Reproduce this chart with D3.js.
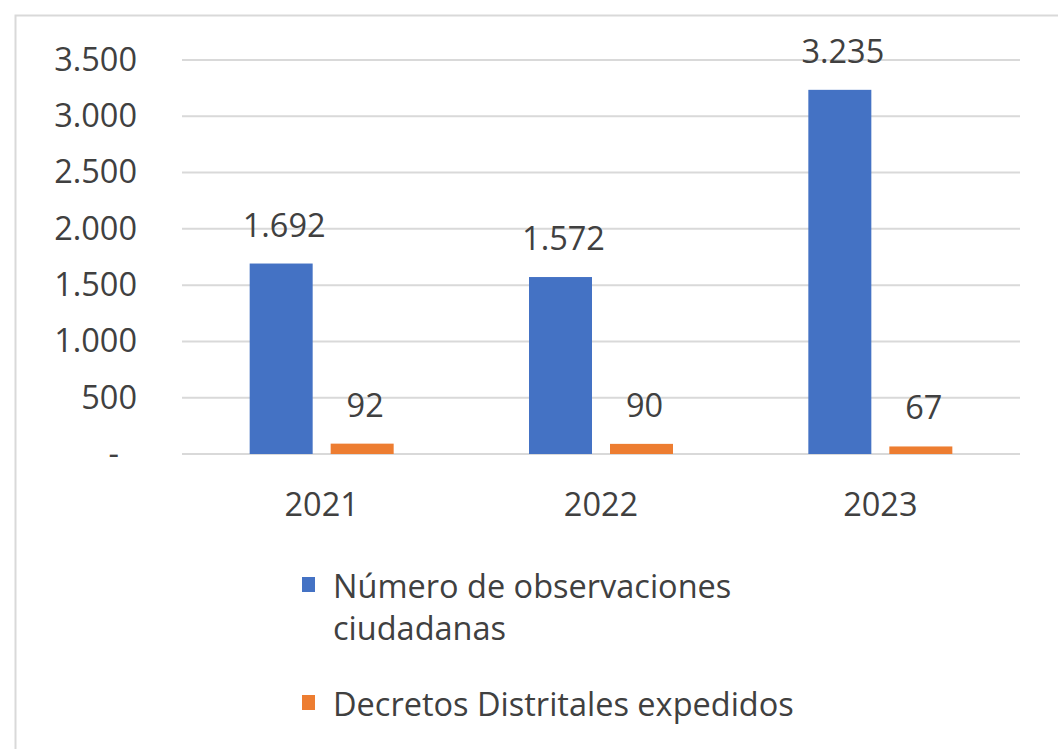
<!DOCTYPE html>
<html>
<head>
<meta charset="utf-8">
<script src="https://cdn.jsdelivr.net/npm/d3@7"></script>
<style>
  body { margin: 0; background: #fff; }
  text { font-family: "Open Sans", sans-serif; fill: #404040; }
</style>
</head>
<body>
<div id="vis"></div>
<script>
// chart data
var years = ['2021', '2022', '2023'];
var observaciones = [1692, 1572, 3235];
var decretos = [92, 90, 67];
var seriesNames = ['Número de observaciones ciudadanas', 'Decretos Distritales expedidos'];
var yTicks = [0, 500, 1000, 1500, 2000, 2500, 3000, 3500];

var width = 1058;
var height = 749;
var colors = ['#4472C4', '#ED7D31'];
var fontSize = 32.5;

var svg = d3.select('#vis')
  .append('svg')
  .attr('width', width)
  .attr('height', height);

// light frame around the chart
svg.append('rect')
  .attr('x', 15.5).attr('y', 15.5)
  .attr('width', width + 20).attr('height', height + 20)
  .attr('fill', 'none')
  .attr('stroke', '#d9d9d9')
  .attr('stroke-width', 2);

var margin = { left: 182, right: 38, top: 60, bottom: 295 };

var x = d3.scaleBand()
  .domain(years)
  .range([margin.left, width - margin.right]);

var y = d3.scaleLinear()
  .domain([0, 3500])
  .range([height - margin.bottom, margin.top]);

var fmt = function(v) {
  if (v === 0) return '-';
  return d3.format(',')(v).replace(/,/g, '.');
};

// gridlines
svg.append('g')
  .selectAll('line')
  .data(yTicks)
  .enter().append('line')
  .attr('x1', margin.left)
  .attr('x2', width - margin.right)
  .attr('y1', function(d) { return y(d); })
  .attr('y2', function(d) { return y(d); })
  .attr('stroke', '#d9d9d9')
  .attr('stroke-width', 2);

// y axis labels
var yAxis = d3.axisLeft(y).tickValues(yTicks).tickFormat(fmt).tickSize(0).tickPadding(0);
var yg = svg.append('g')
  .attr('transform', 'translate(137,0)')
  .call(yAxis);
yg.select('.domain').remove();
yg.selectAll('text')
  .style('font-size', fontSize + 'px')
  .attr('fill', '#404040')
  .attr('dx', function(d) { return d === 0 ? -18 : 0; });

// x axis labels
var xAxis = d3.axisBottom(x).tickSize(0).tickPadding(0);
var xg = svg.append('g')
  .attr('transform', 'translate(0,' + (y(0) + 39) + ')')
  .call(xAxis);
xg.select('.domain').remove();
xg.selectAll('text')
  .style('font-size', fontSize + 'px')
  .attr('fill', '#404040');

var barW = 63;
var gap = 18;

[observaciones, decretos].forEach(function(series, s) {
  var offset = s === 0 ? -(gap / 2 + barW) : gap / 2;
  var bx = function(i) { return x(years[i]) + x.bandwidth() / 2 + offset; };

  svg.append('g')
    .selectAll('rect')
    .data(series)
    .enter().append('rect')
    .attr('x', function(d, i) { return bx(i); })
    .attr('y', function(d) { return y(d); })
    .attr('width', barW)
    .attr('height', function(d) { return y(0) - y(d); })
    .attr('fill', colors[s]);

  svg.append('g')
    .selectAll('text')
    .data(series)
    .enter().append('text')
    .attr('x', function(d, i) { return bx(i) + barW / 2 + 3; })
    .attr('y', function(d) { return y(d) - 27; })
    .attr('text-anchor', 'middle')
    .style('font-size', fontSize + 'px')
    .text(fmt);
});

// legend
var legend = svg.append('g').attr('transform', 'translate(302,0)');
legend.append('rect').attr('x', 0).attr('y', 577).attr('width', 13).attr('height', 15).attr('fill', colors[0]);
legend.append('text').attr('x', 31).attr('y', 598).style('font-size', fontSize + 'px').text('Número de observaciones');
legend.append('text').attr('x', 31).attr('y', 640).style('font-size', fontSize + 'px').text('ciudadanas');
legend.append('rect').attr('x', 0).attr('y', 695).attr('width', 13).attr('height', 15).attr('fill', colors[1]);
legend.append('text').attr('x', 31).attr('y', 716).style('font-size', fontSize + 'px').text(seriesNames[1]);
</script>
</body>
</html>
